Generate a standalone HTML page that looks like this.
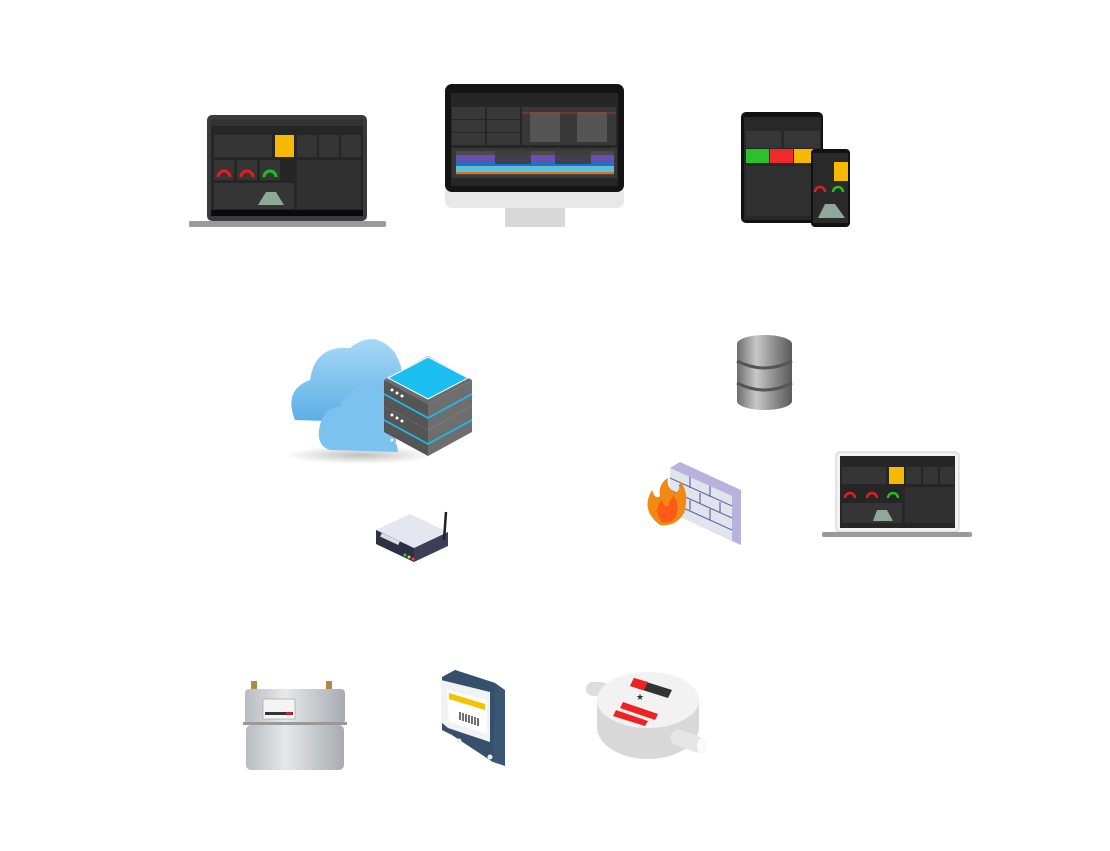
<!DOCTYPE html>
<html><head><meta charset="utf-8"><style>
html,body{margin:0;padding:0;background:#fff;width:1110px;height:851px;overflow:hidden}
svg{display:block}
</style></head><body>
<svg width="1110" height="851" viewBox="0 0 1110 851" xmlns="http://www.w3.org/2000/svg" font-family="Liberation Sans, sans-serif">
<defs>
<linearGradient id="cyl" x1="0" x2="1"><stop offset="0" stop-color="#6e6e6e"/><stop offset=".35" stop-color="#c8c8c8"/><stop offset=".6" stop-color="#9a9a9a"/><stop offset="1" stop-color="#5a5a5a"/></linearGradient>
<linearGradient id="cloud" x1="0" y1="0" x2="0" y2="1"><stop offset="0" stop-color="#a8d8f5"/><stop offset="1" stop-color="#5aaee6"/></linearGradient>
<linearGradient id="gas" x1="0" x2="1"><stop offset="0" stop-color="#b8bcc0"/><stop offset=".4" stop-color="#e6e8ea"/><stop offset="1" stop-color="#a8acb0"/></linearGradient>
<radialGradient id="shadow"><stop offset="0" stop-color="#000" stop-opacity=".25"/><stop offset="1" stop-color="#000" stop-opacity="0"/></radialGradient>
</defs>

<!-- Laptop 1 -->
<rect x="207" y="115" width="160" height="106" rx="5" fill="#3a3a3c"/>
<rect x="211" y="119" width="152" height="97" fill="#262626"/>
<rect x="211" y="119" width="152" height="7" fill="#333"/>
<rect x="214" y="135" width="58" height="22" fill="#353535"/>
<rect x="275" y="135" width="19" height="22" fill="#f6b800"/>
<rect x="297" y="135" width="20" height="22" fill="#353535"/><rect x="319" y="135" width="20" height="22" fill="#353535"/><rect x="341" y="135" width="20" height="22" fill="#353535"/>
<rect x="214" y="160" width="20" height="20" fill="#353535"/><rect x="237" y="160" width="20" height="20" fill="#353535"/><rect x="260" y="160" width="20" height="20" fill="#353535"/>
<path d="M218 177a6 6 0 0 1 12 0" stroke="#e02020" stroke-width="3" fill="none"/>
<path d="M241 177a6 6 0 0 1 12 0" stroke="#e02020" stroke-width="3" fill="none"/>
<path d="M264 177a6 6 0 0 1 12 0" stroke="#20c020" stroke-width="3" fill="none"/>
<rect x="214" y="183" width="80" height="26" fill="#353535"/>
<polygon points="258,205 266,192 276,192 284,205" fill="#8fa89a"/>
<rect x="297" y="160" width="64" height="49" fill="#303030"/>
<rect x="211" y="210" width="152" height="6" fill="#0a0a0a"/>
<rect x="189" y="221" width="197" height="6" rx="2" fill="#9a9a9a"/>

<!-- Monitor -->
<rect x="445" y="84" width="179" height="124" rx="7" fill="#e8e8e8"/>
<rect x="445" y="84" width="179" height="108" rx="7" fill="#141414"/>
<rect x="451" y="93" width="167" height="93" fill="#262626"/>
<rect x="452" y="107" width="33" height="12" fill="#383838"/><rect x="487" y="107" width="33" height="12" fill="#383838"/>
<rect x="452" y="120" width="33" height="12" fill="#383838"/><rect x="487" y="120" width="33" height="12" fill="#383838"/>
<rect x="452" y="133" width="33" height="12" fill="#383838"/><rect x="487" y="133" width="33" height="12" fill="#383838"/>
<rect x="522" y="107" width="94" height="38" fill="#383838"/>
<rect x="530" y="112" width="30" height="30" fill="#555"/><rect x="577" y="112" width="30" height="30" fill="#555"/>
<line x1="522" y1="113" x2="616" y2="113" stroke="#d03030" stroke-width=".8"/>
<rect x="452" y="148" width="165" height="30" fill="#383838"/>
<rect x="456" y="151" width="158" height="24" fill="#4a4a4a"/>
<rect x="456" y="155" width="158" height="6" fill="#6a4fb0"/>
<rect x="456" y="161" width="158" height="5" fill="#2a6cc0"/>
<rect x="456" y="166" width="158" height="6" fill="#58c0d8"/>
<rect x="456" y="172" width="158" height="2" fill="#e07020"/>
<rect x="495" y="150" width="36" height="14" fill="#3a3a3a" opacity=".8"/>
<rect x="555" y="150" width="36" height="14" fill="#3a3a3a" opacity=".8"/>
<rect x="505" y="208" width="60" height="19" fill="#d8d8d8"/>

<!-- Tablet + phone -->
<rect x="741" y="112" width="82" height="111" rx="5" fill="#111"/>
<rect x="744" y="117" width="77" height="103" fill="#282828"/>
<rect x="746" y="131" width="35" height="17" fill="#363636"/><rect x="784" y="131" width="36" height="17" fill="#363636"/>
<rect x="746" y="149" width="23" height="14" fill="#2cc02c"/>
<rect x="770" y="149" width="23" height="14" fill="#f02a2a"/>
<rect x="794" y="149" width="20" height="14" fill="#f6b800"/>
<rect x="746" y="166" width="65" height="50" fill="#303030"/>
<rect x="811" y="149" width="39" height="78" rx="4" fill="#111"/>
<rect x="813" y="153" width="35" height="70" fill="#2a2a2a"/>
<rect x="834" y="162" width="14" height="19" fill="#f6b800"/>
<path d="M815 192a5 5 0 0 1 10 0" stroke="#e02020" stroke-width="2.5" fill="none"/>
<path d="M833 192a5 5 0 0 1 10 0" stroke="#20c020" stroke-width="2.5" fill="none"/>
<polygon points="818,218 825,204 835,204 845,218" fill="#8fa89a"/>

<!-- Cloud -->
<ellipse cx="360" cy="455" rx="75" ry="9" fill="url(#shadow)"/>
<path d="M295 420 q-12 -30 15 -40 q5 -35 40 -32 q25 -20 45 5 q15 25 0 50 l-10 20 z" fill="url(#cloud)"/>
<path d="M330 450 q-15 -5 -10 -25 q5 -18 20 -18 q10 -25 35 -20 q20 10 18 35 l5 30 z" fill="#7cc2ee"/>
<!-- servers -->
<g>
<polygon points="384,380 428,356 472,380 428,404" fill="#6b6b6b"/>
<polygon points="384,380 428,404 428,430 384,406" fill="#555"/>
<polygon points="472,380 428,404 428,430 472,406" fill="#6e6e6e"/>
<polygon points="384,406 428,430 428,456 384,432" fill="#555"/>
<polygon points="472,406 428,430 428,456 472,432" fill="#6e6e6e"/>
<polygon points="384,393 428,417 472,393 472,395 428,419 384,395" fill="#1fb8ea"/>
<polygon points="384,419 428,443 472,419 472,421 428,445 384,421" fill="#1fb8ea"/>
<polygon points="388,378 428,357 468,378 428,399" fill="#1cc0f0" stroke="#fff" stroke-width="1"/>
<circle cx="392" cy="390" r="1.5" fill="#fff"/><circle cx="397" cy="393" r="1.5" fill="#fff"/><circle cx="402" cy="396" r="1.5" fill="#fff"/>
<circle cx="392" cy="415" r="1.5" fill="#fff"/><circle cx="397" cy="418" r="1.5" fill="#fff"/><circle cx="402" cy="421" r="1.5" fill="#fff"/>
<circle cx="392" cy="440" r="1.5" fill="#fff"/><circle cx="397" cy="443" r="1.5" fill="#fff"/><circle cx="402" cy="446" r="1.5" fill="#fff"/>
</g>

<!-- Database -->
<rect x="737" y="344" width="55" height="57" fill="url(#cyl)"/>
<ellipse cx="764.5" cy="401" rx="27.5" ry="9" fill="url(#cyl)"/>
<ellipse cx="764.5" cy="344" rx="27.5" ry="9" fill="url(#cyl)"/>
<path d="M737 361 q27.5 14 55 0" stroke="#555" stroke-width="3" fill="none"/>
<path d="M737 383 q27.5 14 55 0" stroke="#555" stroke-width="3" fill="none"/>

<!-- Router -->
<polygon points="376,530 410,514 448,532 414,548" fill="#e4e6f0"/>
<polygon points="376,530 414,548 414,562 376,544" fill="#2c2f45"/>
<polygon points="448,532 414,548 414,562 448,546" fill="#3b3f58"/>
<line x1="444" y1="540" x2="446" y2="512" stroke="#222" stroke-width="2.5"/>
<rect x="380" y="537" width="20" height="4" fill="#ddd" transform="rotate(25 390 539)"/>
<circle cx="405" cy="555" r="1.5" fill="#4c4"/><circle cx="409" cy="557" r="1.5" fill="#ec3"/><circle cx="413" cy="559" r="1.5" fill="#e44"/>

<!-- Firewall -->
<polygon points="670,468 680,462 741,490 741,545 732,541 670,512" fill="#b8b3dd"/>
<polygon points="670,468 732,496 732,541 670,512" fill="#e2e4ec"/>
<g stroke="#6a66b0" stroke-width="1.2" fill="none">
<path d="M670 478 L732 506 M670 490 L732 518 M670 502 L732 530"/>
<path d="M690 477 v11 M710 486 v11 M680 484 v10 M700 493 v11 M720 502 v11 M690 500 v10 M710 509 v11"/>
</g>
<path d="M660 525 q-20 -15 -8 -35 q3 10 8 6 q-2 -12 8 -18 q-2 10 8 15 q6 -6 4 -12 q10 12 4 32 q-8 14 -24 12z" fill="#f08a12"/>
<path d="M662 522 q-10 -12 0 -22 q2 8 6 6 q2 -8 6 -10 q6 10 2 20 q-4 8 -14 6z" fill="#ff5a1a"/>

<!-- Laptop 2 -->
<rect x="836" y="452" width="123" height="80" rx="4" fill="#f2f2f2" stroke="#ccc"/>
<rect x="840" y="456" width="115" height="72" fill="#262626"/>
<rect x="842" y="467" width="44" height="17" fill="#353535"/>
<rect x="889" y="467" width="15" height="17" fill="#f6b800"/>
<rect x="906" y="467" width="15" height="17" fill="#353535"/><rect x="923" y="467" width="15" height="17" fill="#353535"/><rect x="940" y="467" width="14" height="17" fill="#353535"/>
<path d="M845 498a5 5 0 0 1 10 0" stroke="#e02020" stroke-width="2.5" fill="none"/>
<path d="M867 498a5 5 0 0 1 10 0" stroke="#e02020" stroke-width="2.5" fill="none"/>
<path d="M888 498a5 5 0 0 1 10 0" stroke="#20c020" stroke-width="2.5" fill="none"/>
<rect x="842" y="503" width="60" height="20" fill="#353535"/>
<polygon points="873,521 877,510 887,510 893,521" fill="#8fa89a"/>
<rect x="905" y="487" width="50" height="36" fill="#303030"/>
<rect x="822" y="532" width="150" height="5" rx="2" fill="#9a9a9a"/>

<!-- Gas meter -->
<rect x="251" y="681" width="6" height="10" fill="#b08a40"/><rect x="326" y="681" width="6" height="10" fill="#b08a40"/>
<rect x="245" y="689" width="100" height="35" rx="4" fill="url(#gas)"/>
<rect x="243" y="722" width="104" height="3" fill="#999"/>
<rect x="246" y="725" width="98" height="45" rx="5" fill="url(#gas)"/>
<rect x="263" y="699" width="32" height="20" fill="#f4f4f4" stroke="#888" stroke-width=".5"/>
<rect x="265" y="712" width="28" height="3" fill="#333"/><rect x="286" y="712" width="6" height="3" fill="#c22"/>

<!-- Electric meter -->
<polygon points="455,670 495,683 505,690 505,766 493,762 452,735" fill="#3b5672"/>
<polygon points="442,677 455,670 495,683 493,762 452,735 442,730" fill="#36506c"/>
<polygon points="441,680 490,692 490,742 448,728 441,722" fill="#f0f2f4"/>
<polygon points="447,690 487,700 487,734 449,722" fill="#fff"/>
<polygon points="449,693 485,704 485,710 449,699" fill="#f3c300"/>
<g stroke="#222" stroke-width="1.3"><path d="M460 712v8M463 713v8M466 714v8M469 715v8M472 716v8M475 717v8M478 718v8"/></g>
<circle cx="459" cy="741" r="2.5" fill="#eee"/><circle cx="490" cy="757" r="2.5" fill="#eee"/>

<!-- Water meter -->
<rect x="586" y="682" width="22" height="14" rx="7" fill="#ddd"/>
<ellipse cx="648" cy="727" rx="51" ry="32" fill="#d8d8d8"/>
<rect x="597" y="700" width="102" height="27" fill="#d8d8d8"/>
<ellipse cx="648" cy="700" rx="51" ry="28" fill="#f2f2f2"/>
<rect x="670" y="733" width="36" height="16" rx="8" fill="#e6e6e6" transform="rotate(20 688 741)"/>
<ellipse cx="702" cy="746" rx="5" ry="8" fill="#fafafa"/>
<polygon points="634,678 672,690 668,698 630,686" fill="#333"/>
<polygon points="634,678 648,682 644,690 630,686" fill="#e22"/>
<polygon points="623,702 658,714 655,720 620,708" fill="#e22"/>
<polygon points="616,710 648,721 645,726 613,716" fill="#e22"/>
<text x="636" y="700" font-size="9" fill="#333">★</text>
</svg>
</body></html>
